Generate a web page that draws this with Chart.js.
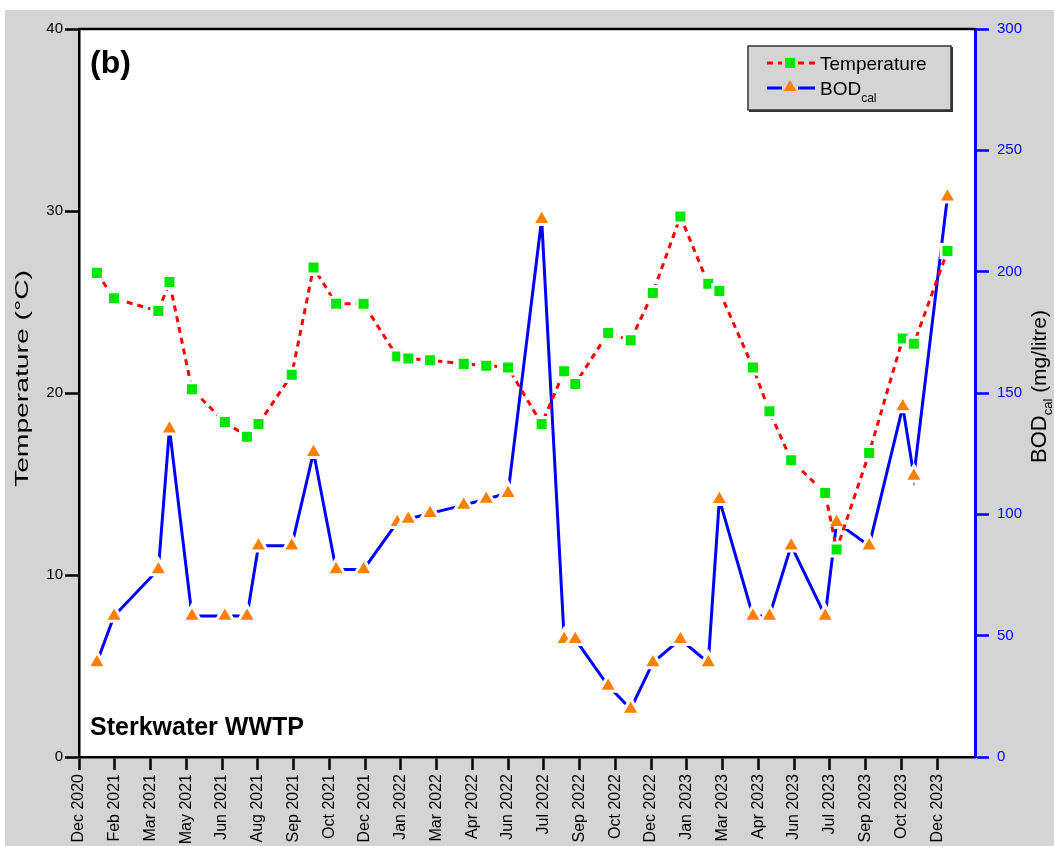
<!DOCTYPE html>
<html>
<head>
<meta charset="utf-8">
<script src="https://cdn.jsdelivr.net/npm/chart.js@4/dist/chart.umd.min.js"></script>
<style>
  html, body { margin: 0; padding: 0; background: #ffffff; }
  #wrap { width: 1054px; height: 846px; }
</style>
</head>
<body>
<div id="wrap"><canvas id="c" width="1054" height="846"></canvas></div>
<script>
// ---- Data (x in axis tick units: 0 = "Dec 2020", one unit per tick label) ----
const xTickLabels = ['Dec 2020','Feb 2021','Mar 2021','May 2021','Jun 2021','Aug 2021','Sep 2021','Oct 2021',
  'Dec 2021','Jan 2022','Mar 2022','Apr 2022','Jun 2022','Jul 2022','Sep 2022','Oct 2022','Dec 2022',
  'Jan 2023','Mar 2023','Apr 2023','Jun 2023','Jul 2023','Sep 2023','Oct 2023','Dec 2023'];
const sampleX = [0.50,0.98,2.22,2.53,3.16,4.08,4.70,5.02,5.95,6.56,7.19,7.96,8.90,9.21,9.82,10.76,11.39,12.00,
  12.94,13.57,13.88,14.80,15.43,16.05,16.82,17.60,17.91,18.85,19.31,19.92,20.87,21.19,22.10,23.04,23.35,24.29];
const temperature = [26.6,25.2,24.5,26.1,20.2,18.4,17.6,18.3,21.0,26.9,24.9,24.9,22.0,21.9,21.8,21.6,21.5,21.4,
  18.3,21.2,20.5,23.3,22.9,25.5,29.7,26.0,25.6,21.4,19.0,16.3,14.5,11.4,16.7,23.0,22.7,27.8];
const bodCal = [38.9,58.1,77.3,135.3,58.1,58.1,58.1,87.1,87.1,125.6,77.3,77.3,96.7,98.1,100.4,103.8,106.3,108.7,
  221.6,48.5,48.5,29.3,19.8,38.9,48.5,38.9,106.2,58.1,58.1,87.1,58.1,96.7,87.1,144.4,115.8,230.9];
const xMax = 25.06;
const tempTicks = [0, 10, 20, 30, 40];
const bodTicks = [0, 50, 100, 150, 200, 250, 300];

const FONT = "'Liberation Sans', Arial, Helvetica, sans-serif";
Chart.defaults.font.family = FONT;

const tempPts = sampleX.map((x, i) => ({ x, y: temperature[i] }));
const bodPts = sampleX.map((x, i) => ({ x, y: bodCal[i] }));

const RED = '#ff0000', GREEN = '#00e600', BLUE = '#0000ff', ORANGE = '#ff8000', GRAY = '#d4d4d4';

const deco = {
  id: 'deco',
  beforeDraw(chart) {
    const { ctx, chartArea: a } = chart;
    ctx.save();
    ctx.fillStyle = '#ffffff';
    ctx.fillRect(0, 0, chart.width, chart.height);
    ctx.fillStyle = GRAY;
    ctx.fillRect(5, 10, chart.width - 5, chart.height - 10);
    ctx.fillStyle = '#ffffff';
    ctx.fillRect(a.left, a.top, a.right - a.left, a.bottom - a.top);
    ctx.restore();
  },
  afterDraw(chart) {
    const { ctx, chartArea: a } = chart;
    ctx.save();
    // top frame line
    ctx.strokeStyle = '#000000';
    ctx.lineWidth = 2.5;
    ctx.beginPath();
    ctx.moveTo(a.left - 1, a.top);
    ctx.lineTo(a.right, a.top);
    ctx.stroke();

    // panel label and site name
    ctx.fillStyle = '#000000';
    ctx.textAlign = 'left';
    ctx.textBaseline = 'alphabetic';
    ctx.font = 'bold 32px ' + FONT;
    ctx.fillText('(b)', 90, 73);
    ctx.font = 'bold 25px ' + FONT;
    ctx.fillText('Sterkwater WWTP', 90, 735);

    // left axis title (stretched along its length like the reference)
    ctx.save();
    ctx.translate(28, 487);
    ctx.rotate(-Math.PI / 2);
    ctx.font = '19px ' + FONT;
    const lt = 'Temperature (°C)';
    const sx = 217 / ctx.measureText(lt).width;
    ctx.scale(sx, 1);
    ctx.fillText(lt, 0, 0);
    ctx.restore();

    // right axis title with subscript
    ctx.save();
    ctx.translate(1046, 463);
    ctx.rotate(-Math.PI / 2);
    ctx.font = '22px ' + FONT;
    ctx.fillText('BOD', 0, 0);
    let w = ctx.measureText('BOD').width;
    ctx.font = '13px ' + FONT;
    ctx.fillText('cal', w, 6);
    w += ctx.measureText('cal').width;
    ctx.font = '21px ' + FONT;
    ctx.fillText(' (mg/litre)', w, 0);
    ctx.restore();

    // legend box
    const bx = 748, by = 46, bw = 203, bh = 64;
    ctx.fillStyle = GRAY;
    ctx.fillRect(bx, by, bw, bh);
    ctx.strokeStyle = '#333333';
    ctx.lineWidth = 1.5;
    ctx.strokeRect(bx, by, bw, bh);
    ctx.lineWidth = 2;
    ctx.beginPath();
    ctx.moveTo(bx + 1, by + bh + 1);
    ctx.lineTo(bx + bw + 1, by + bh + 1);
    ctx.lineTo(bx + bw + 1, by + 1);
    ctx.stroke();

    // legend item 1: temperature
    ctx.strokeStyle = RED;
    ctx.lineWidth = 3;
    ctx.setLineDash([6, 5]);
    ctx.beginPath();
    ctx.moveTo(767, 63);
    ctx.lineTo(782, 63);
    ctx.moveTo(798, 63);
    ctx.lineTo(815, 63);
    ctx.stroke();
    ctx.setLineDash([]);
    ctx.fillStyle = GREEN;
    ctx.fillRect(785, 58, 10, 10);
    ctx.fillStyle = '#000000';
    ctx.font = '19px ' + FONT;
    ctx.fillText('Temperature', 820, 70);

    // legend item 2: BOD
    ctx.strokeStyle = BLUE;
    ctx.lineWidth = 3;
    ctx.beginPath();
    ctx.moveTo(767, 88);
    ctx.lineTo(782, 88);
    ctx.moveTo(798, 88);
    ctx.lineTo(815, 88);
    ctx.stroke();
    ctx.fillStyle = ORANGE;
    ctx.beginPath();
    ctx.moveTo(790, 80);
    ctx.lineTo(796.5, 91);
    ctx.lineTo(783.5, 91);
    ctx.closePath();
    ctx.fill();
    ctx.fillStyle = '#000000';
    ctx.font = '19px ' + FONT;
    ctx.fillText('BOD', 820, 95);
    const wb = ctx.measureText('BOD').width;
    ctx.font = '12px ' + FONT;
    ctx.fillText('cal', 820 + wb, 102);
    ctx.restore();
  }
};

new Chart(document.getElementById('c'), {
  type: 'line',
  data: {
    datasets: [
      {
        label: 'Temperature',
        data: tempPts,
        yAxisID: 'y',
        borderColor: RED,
        borderWidth: 3,
        borderDash: [6, 5],
        pointStyle: 'rect',
        pointRadius: 9.2,
        pointBackgroundColor: GREEN,
        pointBorderColor: '#ffffff',
        pointBorderWidth: 3,
        tension: 0,
        fill: false
      },
      {
        label: 'BODcal',
        data: bodPts,
        yAxisID: 'y1',
        borderColor: BLUE,
        borderWidth: 3,
        pointStyle: 'triangle',
        pointRadius: 10.5,
        pointBackgroundColor: ORANGE,
        pointBorderColor: '#ffffff',
        pointBorderWidth: 3,
        tension: 0,
        fill: false
      }
    ]
  },
  options: {
    responsive: false,
    animation: false,
    events: [],
    layout: { padding: { top: 29, left: 0, right: 0, bottom: 0 } },
    plugins: { legend: { display: false }, tooltip: { enabled: false }, title: { display: false } },
    scales: {
      x: {
        type: 'linear',
        min: 0,
        max: xMax,
        afterBuildTicks(scale) { scale.ticks = xTickLabels.map((_, i) => ({ value: i })); },
        afterFit(scale) { scale.height = 89; },
        grid: { drawOnChartArea: false, tickLength: 13, tickColor: '#000000', tickWidth: 2.5 },
        border: { color: '#000000', width: 2.5 },
        ticks: {
          autoSkip: false, maxRotation: 90, minRotation: 90, padding: 4,
          color: '#000000', font: { size: 16 },
          callback: (v) => xTickLabels[Math.round(v)]
        }
      },
      y: {
        type: 'linear',
        position: 'left',
        min: 0,
        max: 40,
        afterBuildTicks(scale) { scale.ticks = tempTicks.map(v => ({ value: v })); },
        afterFit(scale) { scale.width = 79; },
        grid: { drawOnChartArea: false, tickLength: 14, tickColor: '#000000', tickWidth: 2.5 },
        border: { color: '#000000', width: 2.5 },
        ticks: { color: '#000000', font: { size: 15 }, padding: 2 }
      },
      y1: {
        type: 'linear',
        position: 'right',
        min: 0,
        max: 300,
        afterBuildTicks(scale) { scale.ticks = bodTicks.map(v => ({ value: v })); },
        afterFit(scale) { scale.width = 79; },
        grid: { drawOnChartArea: false, tickLength: 14, tickColor: BLUE, tickWidth: 2.5 },
        border: { color: BLUE, width: 3 },
        ticks: { color: BLUE, font: { size: 15 }, padding: 8 }
      }
    }
  },
  plugins: [deco]
});
</script>
</body>
</html>
